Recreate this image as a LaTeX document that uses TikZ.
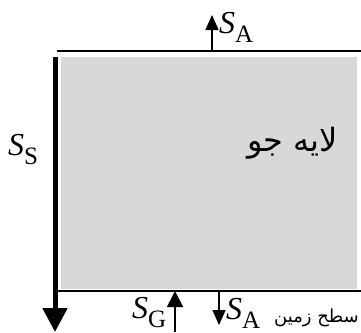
\documentclass[tikz,border=0pt]{standalone}
\usepackage{fontspec}
\setmainfont{Liberation Serif}
\newfontfamily\arabicfont[Script=Arabic]{DejaVu Sans}
\TeXXeTstate=1
\usetikzlibrary{arrows.meta}
\newcommand\flux[1]{\textit{S}\raisebox{-0.28em}{\fontsize{25}{25}\selectfont #1}}
\tikzset{
  lbl/.style={inner sep=0pt, font=\fontsize{32}{32}\selectfont},
  arlbl/.style={inner sep=0pt},
  edge/.style={line width=1.2pt},
  thin arrow/.style={line width=1.6pt, -{Triangle[width=13pt,length=15pt]}},
  big arrow/.style={line width=5pt, -{Triangle[width=24pt,length=24pt]}},
}
\begin{document}
\begin{tikzpicture}[x=1pt,y=-1pt]
\useasboundingbox (0,0) rectangle (361,332);
\fill[fill={rgb,255:red,216;green,216;blue,216}] (61,57) rectangle (357,289);
\coordinate (tl) at (57,51);
\coordinate (tr) at (361,51);
\coordinate (bl) at (57,291);
\coordinate (br) at (361,291);
\draw[edge] (tl) -- (tr);
\draw[edge] (bl) -- (br);
\coordinate (ssTop) at (55,57);
\coordinate (ssBot) at (55,332);
\draw[big arrow] (ssTop) -- (ssBot);
\coordinate (saTopA) at (212,51);
\coordinate (saTopB) at (212,15);
\draw[thin arrow] (saTopA) -- (saTopB);
\coordinate (sgA) at (175,332);
\coordinate (sgB) at (175,291);
\draw[line width=1.8pt, -{Triangle[width=16pt,length=16pt]}] (sgA) -- (sgB);
\coordinate (saBotA) at (219,291);
\coordinate (saBotB) at (219,325);
\draw[thin arrow] (saBotA) -- (saBotB);
\node[lbl, anchor=west] (saTop) at (219,27) {\flux{A}};
\node[lbl, anchor=west] (ss) at (8,150) {\flux{S}};
\node[lbl, anchor=west] (sg) at (132,313) {\flux{G}};
\node[lbl, anchor=west] (saBot) at (226,313) {\flux{A}};
\node[arlbl, anchor=east, font=\fontsize{32}{32}\selectfont] (layer) at (338,143) {\arabicfont\beginR لایه جو\endR};
\node[arlbl, anchor=east, font=\fontsize{18}{18}\selectfont] (ground) at (359,318) {\arabicfont\beginR سطح زمین\endR};
\end{tikzpicture}
\end{document}
